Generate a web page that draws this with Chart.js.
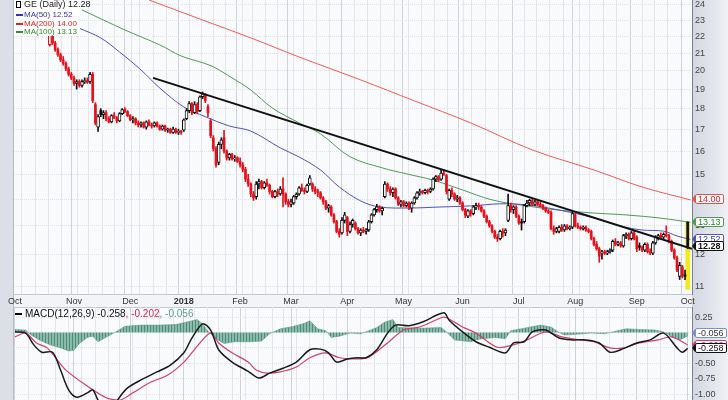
<!DOCTYPE html>
<html lang="en">
<head>
<meta charset="UTF-8">
<title>GE (Daily)</title>
<style>
  body { margin: 0; background: #fff; font-family: Arial, "Liberation Sans", sans-serif; }
  #wrap { position: relative; width: 728px; height: 400px; overflow: hidden; }
  canvas { position: absolute; left: 0; }
  #legend { position: absolute; left: 14px; top: 0; width: 66px; height: 36px; background: #fff; }
  .lg { position: absolute; left: 2px; white-space: nowrap; font-size: 8px; line-height: 9px; }
  .lg .dash { display: inline-block; width: 7px; height: 2px; vertical-align: middle; margin-right: 1px; }
  .icon { display: inline-block; width: 3px; height: 5px; border: 1px solid #000; margin-right: 3px; vertical-align: -1px; }
  #macdLegend { position: absolute; left: 15px; top: 308px; font-size: 10px; line-height: 11px; white-space: nowrap; }
  #macdLegend .dash { display: inline-block; width: 7px; height: 2px; background: #000; vertical-align: middle; margin-right: 3px; }
  .tag { position: absolute; left: 695px; height: 8px; line-height: 8px; font-size: 9px; padding: 0 2px;
         background: #fff; border: 1px solid var(--c); border-radius: 2px; white-space: nowrap; }
  .tag::before { content: ''; position: absolute; left: -4px; top: 0; border-top: 4px solid transparent;
         border-bottom: 4px solid transparent; border-right: 3px solid var(--c); }
</style>
</head>
<body>
<div id="wrap">
  <canvas id="price" width="728" height="307" style="top:0"></canvas>
  <canvas id="macd" width="728" height="93" style="top:307px"></canvas>

  <div id="legend">
    <div class="lg" style="top:0;font-size:9px;color:#222"><span class="icon"></span>GE (Daily) 12.28</div>
    <div class="lg" style="top:10px;color:#3333aa"><span class="dash" style="background:#3333aa"></span>MA(50) 12.52</div>
    <div class="lg" style="top:19px;color:#dd2020"><span class="dash" style="background:#dd2020"></span>MA(200) 14.00</div>
    <div class="lg" style="top:27px;color:#2e8b2e"><span class="dash" style="background:#2e8b2e"></span>MA(100) 13.13</div>
  </div>

  <div id="macdLegend"><span class="dash"></span><span style="color:#111">MACD(12,26,9) -0.258</span><span style="color:#cc2255">, -0.202</span><span style="color:#5a9e88">, -0.056</span></div>
</div>

<script src="https://cdn.jsdelivr.net/npm/chart.js"></script>
<script>
  // trading day index 0 = 2 Oct 2017, 251 = 1 Oct 2018
  const monthStarts = [0, 22, 43, 63, 84, 103, 124, 145, 167, 188, 209, 232, 251];
  const monthLabels = ['Oct', 'Nov', 'Dec', '2018', 'Feb', 'Mar', 'Apr', 'May', 'Jun', 'Jul', 'Aug', 'Sep', 'Oct'];
  const weekStarts = [0, 5, 10, 15, 20, 25, 30, 35, 39, 44, 49, 54, 59, 63, 67, 72, 76, 81, 86, 91, 96, 100, 105,
    110, 115, 120, 124, 129, 134, 139, 144, 149, 154, 159, 164, 168, 173, 178, 183, 188, 192, 197, 202, 207, 212,
    217, 222, 227, 232, 236, 241, 246, 251];
  const priceTicks = [11, 12, 13, 14, 15, 16, 17, 18, 19, 20, 21, 22, 23, 24];
  const macdTicks = [0.25, 0, -0.25, -0.5, -0.75, -1];

  const opens = [
    24.2,24.4,24.2,24.3,24.0,23.8,23.9,23.6,23.7,23.4, 23.5,23.3,23.4,21.5,22.1,21.6,21.2,20.9,20.6,20.4,
    20.1,19.8,19.6,19.3,19.4,19.2,19.4,19.45,19.4,19.8, 18.2,17.1,17.9,17.7,17.8,17.5,17.35,17.65,17.55,17.4,
    17.75,17.95,17.85,17.65,17.45,17.5,17.3,17.2,17.3,17.1, 17.35,17.2,17.15,17.3,17.15,17.0,17.15,16.95,17.0,16.85,
    17.0,16.85,16.9,16.95,17.5,17.9,18.25,17.8,18.2,17.9, 18.6,18.7,18.1,17.4,16.6,16.1,15.5,16.3,16.6,16.0,
    15.7,15.85,15.65,15.7,15.55,15.4,15.2,14.8,14.6,14.2, 14.1,14.6,14.7,14.45,14.65,14.55,14.3,14.1,14.3,14.2,
    14.4,14.2,13.9,13.8,13.85,14.1,14.2,14.45,14.35,14.3, 14.6,14.6,14.4,14.3,14.25,14.05,13.9,13.65,13.7,13.4,
    13.15,12.8,12.75,13.2,13.3,12.8,13.05,13.1,12.9,12.75, 12.85,12.8,12.85,13.15,13.4,13.6,13.7,13.55,14.1,14.6,
    14.4,14.25,14.4,14.05,13.8,13.9,13.75,13.85,13.65,13.85, 14.05,14.25,14.3,14.25,14.35,14.3,14.4,14.8,14.9,14.8,
    15.05,14.95,14.0,14.35,14.2,14.0,14.05,13.85,13.6,13.35, 13.55,13.45,13.7,13.75,13.7,13.55,13.35,13.15,13.0,12.8,
    12.6,12.55,12.8,12.75,13.2,13.75,13.6,13.7,13.35,13.15, 13.15,13.75,13.85,13.95,13.8,13.9,13.8,13.75,13.65,13.55,
    13.5,12.9,12.8,12.8,12.95,12.85,13.0,12.9,12.95,13.4, 13.0,12.95,12.9,12.95,12.85,12.8,12.55,12.35,12.2,12.05,
    12.1,12.05,12.1,12.15,12.45,12.35,12.4,12.3,12.65,12.7, 12.55,12.75,12.6,12.3,12.25,12.15,12.35,12.1,12.05,12.4,
    12.6,12.65,12.6,12.7,12.65,12.45,12.15,11.9,11.3,11.6, 11.35,13.13
  ];
  const highs = [
    24.5,24.5,24.4,24.4,24.1,24.0,24.0,23.8,23.8,23.6, 23.6,23.5,23.5,22.4,22.2,21.7,21.3,21.0,20.8,20.5,
    20.2,19.9,19.7,19.5,19.5,19.5,19.6,19.6,19.9,19.9, 18.3,17.7,18.0,17.9,17.9,17.6,17.7,17.8,17.6,17.8,
    18.0,18.05,17.9,17.7,17.6,17.55,17.4,17.35,17.35,17.4, 17.45,17.3,17.35,17.35,17.2,17.2,17.2,17.05,17.05,17.1,
    17.05,17.0,16.95,17.5,18.0,18.35,18.3,18.35,18.3,18.65, 18.85,18.75,18.2,17.5,16.7,16.2,16.4,16.6,16.95,16.05,
    15.9,15.9,15.8,15.75,15.7,15.5,15.3,15.0,14.65,14.3, 14.7,14.8,14.75,14.7,14.8,14.6,14.35,14.35,14.4,14.5,
    14.85,14.25,14.0,14.0,14.15,14.25,14.5,14.6,14.45,14.6, 14.95,14.65,14.5,14.4,14.3,14.1,13.95,13.8,13.75,13.45,
    13.2,12.9,13.3,13.5,13.35,13.15,13.25,13.15,12.95,12.9, 12.95,12.9,13.2,13.45,13.65,13.8,13.75,13.7,14.7,14.65,
    14.5,14.45,14.45,14.1,13.95,13.95,13.9,13.9,13.9,14.1, 14.3,14.4,14.35,14.4,14.4,14.45,14.85,14.95,14.95,15.2,
    15.2,15.0,14.4,14.45,14.25,14.15,14.1,13.9,13.65,13.6, 13.6,13.75,13.85,13.85,13.75,13.6,13.4,13.2,13.05,12.85,
    12.7,12.85,12.9,12.9,14.2,13.85,13.75,13.75,13.4,13.25, 13.8,13.95,14.0,14.0,13.95,13.95,13.9,13.8,13.7,13.6,
    13.55,13.0,12.95,13.0,13.05,13.05,13.05,13.0,13.5,13.45, 13.1,13.0,13.0,13.0,12.9,12.85,12.6,12.45,12.25,12.15,
    12.15,12.15,12.2,12.5,12.55,12.45,12.45,12.7,12.75,12.75, 12.8,12.8,12.65,12.4,12.3,12.4,12.4,12.2,12.45,12.65,
    12.7,12.75,12.75,13.0,12.7,12.5,12.2,11.95,11.75,11.65, 11.5,13.15
  ];
  const lows = [
    24.0,24.1,24.0,23.9,23.7,23.6,23.5,23.4,23.3,23.3, 23.2,23.1,23.0,21.4,21.5,21.1,20.8,20.5,20.3,20.0,
    19.7,19.5,19.2,19.0,19.1,19.1,19.3,19.3,19.3,18.3, 17.2,16.9,17.6,17.5,17.4,17.3,17.3,17.5,17.3,17.35,
    17.7,17.8,17.6,17.4,17.3,17.2,17.1,17.1,17.05,17.0, 17.15,17.05,17.1,17.1,16.95,16.95,16.9,16.85,16.8,16.8,
    16.8,16.75,16.75,16.9,17.45,17.8,17.7,17.75,17.75,17.85, 18.5,18.3,17.6,16.6,16.0,15.3,15.4,16.1,15.9,15.6,
    15.6,15.6,15.55,15.5,15.3,15.1,14.7,14.5,14.1,13.95, 14.0,14.4,14.4,14.4,14.5,14.2,14.05,14.05,14.1,14.15,
    13.7,13.8,13.7,13.7,13.8,14.0,14.15,14.3,14.2,14.25, 14.55,14.3,14.2,14.1,14.0,13.8,13.6,13.5,13.35,13.1,
    12.75,12.6,12.7,13.1,12.65,12.75,12.95,12.85,12.7,12.65, 12.75,12.7,12.8,13.1,13.35,13.5,13.5,13.4,14.05,14.3,
    14.15,14.1,14.0,13.75,13.7,13.7,13.7,13.6,13.5,13.8, 14.0,14.15,14.2,14.2,14.2,14.25,14.35,14.7,14.7,14.75,
    14.95,14.2,13.95,14.1,13.95,13.9,13.8,13.55,13.3,13.3, 13.35,13.4,13.6,13.6,13.5,13.3,13.1,12.95,12.75,12.55,
    12.45,12.5,12.6,12.65,13.15,13.5,13.45,13.3,13.05,12.85, 13.1,13.7,13.75,13.75,13.75,13.75,13.7,13.6,13.5,13.45,
    12.85,12.7,12.75,12.75,12.8,12.8,12.85,12.85,12.9,12.95, 12.9,12.85,12.85,12.8,12.75,12.5,12.3,12.15,11.75,11.85,
    12.0,12.0,12.05,12.1,12.3,12.3,12.25,12.25,12.55,12.5, 12.5,12.5,12.1,12.15,12.1,12.1,12.05,12.0,12.0,12.35,
    12.5,12.55,12.55,12.6,12.4,12.1,11.85,11.45,11.2,11.25, 11.2,12.2
  ];
  const closes = [
    24.4,24.2,24.3,24.0,23.8,23.9,23.6,23.7,23.4,23.5, 23.3,23.4,23.2,22.2,21.6,21.2,20.9,20.6,20.4,20.1,
    19.8,19.6,19.3,19.4,19.2,19.4,19.45,19.35,19.8,18.4, 17.3,17.6,17.7,17.8,17.5,17.35,17.65,17.55,17.4,17.75,
    17.95,17.85,17.65,17.45,17.5,17.3,17.2,17.3,17.1,17.35, 17.2,17.15,17.3,17.15,17.0,17.15,16.95,17.0,16.85,17.0,
    16.85,16.9,16.85,17.45,17.9,18.25,17.8,18.2,17.85,18.6, 18.75,18.4,17.8,16.7,16.1,15.4,16.3,16.5,16.0,15.7,
    15.85,15.65,15.7,15.55,15.4,15.2,14.8,14.6,14.2,14.05, 14.6,14.7,14.45,14.65,14.55,14.3,14.1,14.3,14.2,14.4,
    14.2,13.9,13.8,13.9,14.1,14.2,14.45,14.35,14.3,14.55, 14.85,14.4,14.3,14.25,14.05,13.9,13.65,13.75,13.4,13.15,
    12.8,12.7,13.2,13.4,12.8,13.05,13.2,12.9,12.75,12.85, 12.8,12.85,13.15,13.4,13.6,13.7,13.55,13.65,14.6,14.4,
    14.25,14.4,14.05,13.8,13.9,13.75,13.85,13.65,13.85,14.05, 14.25,14.3,14.25,14.35,14.3,14.4,14.8,14.9,14.75,15.05,
    15.0,14.3,14.35,14.2,14.0,14.05,13.85,13.6,13.4,13.55, 13.45,13.7,13.75,13.7,13.55,13.35,13.15,13.0,12.8,12.6,
    12.55,12.8,12.75,12.85,13.75,13.6,13.7,13.35,13.1,13.1, 13.75,13.85,13.95,13.8,13.9,13.8,13.75,13.65,13.55,13.5,
    12.9,12.8,12.9,12.95,12.85,13.0,12.9,12.95,13.45,13.0, 12.95,12.9,12.95,12.85,12.8,12.55,12.35,12.2,11.95,12.1,
    12.05,12.1,12.15,12.45,12.35,12.4,12.3,12.65,12.7,12.55, 12.75,12.55,12.2,12.25,12.15,12.35,12.1,12.05,12.4,12.6,
    12.65,12.6,12.7,12.65,12.45,12.15,11.9,11.5,11.65,11.3, 11.3,12.28
  ];

  const ma50Days = [24, 32, 39, 47, 54, 63, 71, 80, 88, 99, 106, 114, 121, 129, 136, 147, 159, 170, 181, 191, 199, 207, 216, 226, 234, 242, 247, 252];
  const ma50 = [22.5, 21.9, 21.06, 20.04, 19.06, 18.08, 17.6, 17.15, 16.91, 16.14, 15.74, 15.18, 14.48, 13.93, 13.7, 13.66, 13.7, 13.74, 13.82, 13.78, 13.66, 13.5, 13.29, 12.99, 12.85, 12.81, 12.64, 12.52];
  const ma100Days = [25, 41, 54, 62, 69, 74, 81, 88, 96, 106, 114, 125, 137, 146, 156, 166, 178, 191, 203, 216, 228, 241, 252];
  const ma100 = [23.67, 22.39, 21.48, 20.83, 20.49, 20.21, 19.6, 18.95, 18.03, 17.3, 16.78, 15.75, 15.27, 15.02, 14.76, 14.4, 13.97, 13.74, 13.58, 13.47, 13.4, 13.28, 13.13];
  const ma200Days = [50, 69, 88, 106, 129, 149, 170, 193, 216, 234, 252];
  const ma200 = [24.33, 23.08, 21.9, 20.77, 19.49, 18.39, 17.3, 16.05, 15.18, 14.48, 13.97];

  const trendDays = [51.5, 252.6];
  const trendValues = [19.6, 12.2];
  const lastDay = 251;
  const lastDayBand = [10.9, 13.13];

  const macdDays = [0, 4, 7, 10, 14, 17, 20, 23, 27, 29, 31, 34, 37, 39, 42, 47, 53, 58, 63, 66, 70, 73, 76, 81, 87, 91, 95, 100, 105, 110,
    114, 117, 120, 124, 128, 131, 135, 139, 142, 147, 152, 160, 162, 167, 172, 177, 183, 186, 190, 193, 198, 203, 208, 213, 218, 222, 226,
    232, 237, 242, 247, 249, 251];
  const macd = [0.01, -0.01, -0.2, -0.32, -0.32, -0.61, -0.93, -1.05, -0.98, -0.93, -1.1, -1.26, -1.18, -1.05, -0.9, -0.77, -0.64, -0.53,
    -0.33, -0.09, 0.14, 0.04, -0.28, -0.48, -0.63, -0.74, -0.66, -0.58, -0.48, -0.28, -0.27, -0.33, -0.48, -0.43, -0.41, -0.41, -0.28,
    -0.01, 0.12, 0.11, 0.17, 0.32, 0.2, 0.01, -0.15, -0.24, -0.33, -0.17, -0.15, 0.01, 0.04, -0.09, -0.12, -0.12, -0.17, -0.32, -0.28,
    -0.17, -0.12, -0.01, -0.25, -0.32, -0.258];
  const signalDays = [0, 4, 8, 12, 19, 28, 34, 39, 44, 50, 57, 63, 69, 73, 76, 81, 87, 90, 94, 99, 105, 110, 116, 121, 128, 132, 139, 145,
    151, 159, 161, 167, 172, 180, 186, 191, 198, 204, 211, 216, 222, 227, 233, 240, 245, 251];
  const signal = [-0.07, -0.01, -0.17, -0.25, -0.61, -0.9, -1.06, -1.1, -0.98, -0.82, -0.69, -0.48, -0.17, -0.01, -0.17, -0.33, -0.48,
    -0.61, -0.66, -0.64, -0.56, -0.41, -0.33, -0.41, -0.43, -0.4, -0.17, 0.04, 0.09, 0.24, 0.24, 0.09, -0.01, -0.24, -0.2, -0.12, 0.01,
    -0.07, -0.12, -0.15, -0.25, -0.25, -0.17, -0.12, -0.07, -0.202];
  const histDays = [0, 4, 6, 9, 13, 17, 20, 22, 24, 27, 29, 31, 33, 36, 38, 41, 47, 54, 60, 63, 68, 70, 72, 75, 78, 82, 88, 92, 95, 99,
    104, 108, 110, 113, 116, 118, 121, 125, 129, 132, 135, 138, 141, 143, 151, 159, 161, 164, 170, 173, 179, 183, 185, 190, 196, 200,
    203, 205, 209, 215, 220, 224, 228, 233, 239, 242, 245, 248, 251];
  const hist = [0.05, 0.04, -0.04, -0.12, -0.2, -0.25, -0.3, -0.29, -0.18, -0.08, -0.06, -0.15, -0.1, -0.03, 0.02, 0.1, 0.12, 0.12, 0.13,
    0.16, 0.21, 0.14, 0.02, -0.1, -0.18, -0.15, -0.15, -0.14, -0.02, 0.06, 0.1, 0.15, 0.19, 0.06, 0.03, -0.08, -0.06, -0.01, -0.02, 0.03,
    0.08, 0.17, 0.21, 0.08, 0.07, 0.08, 0.01, -0.12, -0.15, -0.11, -0.08, -0.1, 0.03, 0.07, 0.12, 0.09, 0, -0.04, -0.03, -0.01, -0.02,
    0.02, 0.06, 0.05, 0.04, 0.01, -0.07, -0.12, -0.056];

  Chart.defaults.font.family = 'Arial, "Liberation Sans", sans-serif';
  Chart.defaults.font.size = 9;
  Chart.defaults.color = '#333';

  const xMin = -0.37, xMax = 252.6;
  const gridTicks = [...new Set([...weekStarts, ...monthStarts])].sort((a, b) => a - b);
  const gridColor = (c) => (c.tick && monthStarts.includes(c.tick.value)) ? '#cfd2da' : '#e4e6ec';

  // panel backgrounds (left strip, plot area, right axis band)
  const panelBg = {
    id: 'panelBg',
    beforeDraw(chart) {
      const { ctx, chartArea: a, width, height } = chart;
      ctx.save();
      ctx.fillStyle = '#f3f4f7';
      ctx.fillRect(0, 0, width, height);
      ctx.fillStyle = '#f9fafc';
      ctx.fillRect(a.left, a.top, a.right - a.left, a.bottom - a.top);
      ctx.fillStyle = '#dcdfe7';
      ctx.fillRect(0, 0, 13, height);
      ctx.fillStyle = '#b6bac4';
      ctx.fillRect(13, 0, 1, height);
      const g = ctx.createLinearGradient(a.right, 0, width, 0);
      g.addColorStop(0, '#d3d7e1');
      g.addColorStop(1, '#eef0f4');
      ctx.fillStyle = g;
      ctx.fillRect(a.right, 0, width - a.right, height);
      ctx.fillStyle = '#c3c7d0';
      if (chart.canvas.id === 'price') ctx.fillRect(13, a.bottom, a.right - 13, 1);
      else ctx.fillRect(13, 0, a.right - 13, 1);
      ctx.restore();
    }
  };

  const days = closes.map((c, i) => i);
  const candleColor = days.map(i => (i > 0 && closes[i] < closes[i - 1]) ? '#e8101c' : '#111');
  const hollowDays = days.filter(i => closes[i] > opens[i]);
  const filledDays = days.filter(i => closes[i] <= opens[i]);

  const pts = (xs, ys) => xs.map((x, i) => ({ x: x, y: ys[i] }));

  const priceChart = new Chart(document.getElementById('price'), {
    type: 'bar',
    data: {
      datasets: [
        { type: 'line', data: pts(trendDays, trendValues), borderColor: '#111', borderWidth: 2, pointRadius: 0, order: 1 },
        { data: filledDays.map(i => ({ x: i, y: [opens[i], closes[i]] })), backgroundColor: c => candleColor[c.raw.x],
          barThickness: 2, grouped: false, order: 2 },
        { data: hollowDays.map(i => ({ x: i, y: [opens[i], closes[i]] })), backgroundColor: '#fff',
          borderColor: c => candleColor[c.raw.x], borderWidth: 1, borderSkipped: false, barThickness: 3, grouped: false, order: 3 },
        { data: days.map(i => ({ x: i, y: [lows[i], highs[i]] })), backgroundColor: candleColor,
          barThickness: 1, grouped: false, order: 4 },
        { type: 'line', data: pts(ma50Days, ma50), borderColor: '#5252b8', borderWidth: 1, pointRadius: 0, tension: 0.35, order: 5 },
        { type: 'line', data: pts(ma100Days, ma100), borderColor: '#4f9a55', borderWidth: 1, pointRadius: 0, tension: 0.35, order: 5 },
        { type: 'line', data: pts(ma200Days, ma200), borderColor: '#ef5a5a', borderWidth: 1, pointRadius: 0, tension: 0.35, order: 5 },
        { data: [{ x: lastDay, y: lastDayBand }], backgroundColor: '#f2ea1c', borderColor: '#b8b000', borderWidth: 0,
          barThickness: 4, grouped: false, order: 6 }
      ]
    },
    options: {
      responsive: false,
      devicePixelRatio: 1,
      animation: false,
      layout: { padding: { left: 14, top: 0, right: 0, bottom: 0 } },
      plugins: { legend: { display: false }, tooltip: { enabled: false } },
      scales: {
        x: {
          type: 'linear', min: xMin, max: xMax, offset: false,
          afterBuildTicks: s => { s.ticks = gridTicks.map(v => ({ value: v })); },
          afterFit: s => { s.height = 13; s.paddingLeft = 0; s.paddingRight = 0; },
          ticks: {
            autoSkip: false, maxRotation: 0, padding: 2, color: '#333',
            callback: v => { const k = monthStarts.indexOf(v); return k < 0 ? '' : monthLabels[k]; },
            font: c => ({ size: 9, weight: (c.tick && c.tick.value === 63) ? 'bold' : 'normal' })
          },
          grid: { color: gridColor, drawTicks: false },
          border: { display: false }
        },
        y: {
          type: 'logarithmic', position: 'right', min: 10.76, max: 24.33,
          afterBuildTicks: s => { s.ticks = priceTicks.map(v => ({ value: v })); },
          afterFit: s => { s.width = 36; s.paddingTop = 0; s.paddingBottom = 0; },
          ticks: { padding: 3, color: '#444', callback: v => String(v) },
          grid: { color: '#e2e4ea', drawTicks: false },
          border: { display: true, color: '#7d818a', dash: [1, 1] }
        }
      }
    },
    plugins: [panelBg]
  });

  // striped histogram fill
  const stripe = document.createElement('canvas');
  stripe.width = 3; stripe.height = 1;
  const sx = stripe.getContext('2d');
  sx.fillStyle = '#8bbbaa'; sx.fillRect(0, 0, 3, 1);
  sx.fillStyle = '#4f8c77'; sx.fillRect(0, 0, 1, 1);
  const macdCanvas = document.getElementById('macd');
  const histFill = macdCanvas.getContext('2d').createPattern(stripe, 'repeat');

  const macdChart = new Chart(macdCanvas, {
    type: 'line',
    data: {
      datasets: [
        { data: pts(macdDays, macd), borderColor: '#1a1a1a', borderWidth: 1.5, pointRadius: 0, tension: 0.3, order: 1 },
        { data: pts(signalDays, signal), borderColor: '#d2406a', borderWidth: 1.2, pointRadius: 0, tension: 0.3, order: 2 },
        { data: pts(histDays, hist), borderColor: '#5a9580', borderWidth: 0.5, backgroundColor: histFill, fill: 'origin',
          pointRadius: 0, tension: 0, order: 3 }
      ]
    },
    options: {
      responsive: false,
      devicePixelRatio: 1,
      animation: false,
      layout: { padding: { left: 14, top: 0, right: 0, bottom: 0 } },
      plugins: { legend: { display: false }, tooltip: { enabled: false } },
      scales: {
        x: {
          type: 'linear', min: xMin, max: xMax, offset: false,
          afterBuildTicks: s => { s.ticks = gridTicks.map(v => ({ value: v })); },
          afterFit: s => { s.height = 0; s.paddingLeft = 0; s.paddingRight = 0; },
          ticks: { display: false },
          grid: { color: gridColor, drawTicks: false },
          border: { display: false }
        },
        y: {
          type: 'linear', position: 'right', min: -1.096, max: 0.414,
          afterBuildTicks: s => { s.ticks = macdTicks.map(v => ({ value: v })); },
          afterFit: s => { s.width = 36; s.paddingTop = 0; s.paddingBottom = 0; },
          ticks: { padding: 3, color: '#444', callback: v => v.toFixed(2) },
          grid: { color: '#e2e4ea', drawTicks: false },
          border: { display: true, color: '#7d818a', dash: [1, 1] }
        }
      }
    },
    plugins: [panelBg]
  });

  // value tags on the right axis (shift = nudge in px so stacked tags read like the original)
  const wrap = document.getElementById('wrap');
  function addTag(chart, top, value, text, color, textColor, bold, shift) {
    const y = top + chart.scales.y.getPixelForValue(value) + (shift || 0);
    const el = document.createElement('div');
    el.className = 'tag';
    el.textContent = text;
    el.style.top = Math.round(y - 5) + 'px';
    el.style.setProperty('--c', color);
    el.style.color = textColor;
    if (bold) el.style.fontWeight = 'bold';
    wrap.appendChild(el);
  }
  addTag(priceChart, 0, 14.00, '14.00', '#e85050', '#d42020');
  addTag(priceChart, 0, 13.13, '13.13', '#4f9a55', '#2e7d2e');
  addTag(priceChart, 0, 12.52, '12.52', '#5252b8', '#3333aa');
  addTag(priceChart, 0, 12.28, '12.28', '#111', '#111', true);
  addTag(macdChart, 307, -0.056, '-0.056', '#7c8fcf', '#333', false, -2.5);
  addTag(macdChart, 307, -0.202, '-0.202', '#d2406a', '#d2406a', false, 0);
  addTag(macdChart, 307, -0.258, '-0.258', '#111', '#111', false, -0.5);
</script>
</body>
</html>
